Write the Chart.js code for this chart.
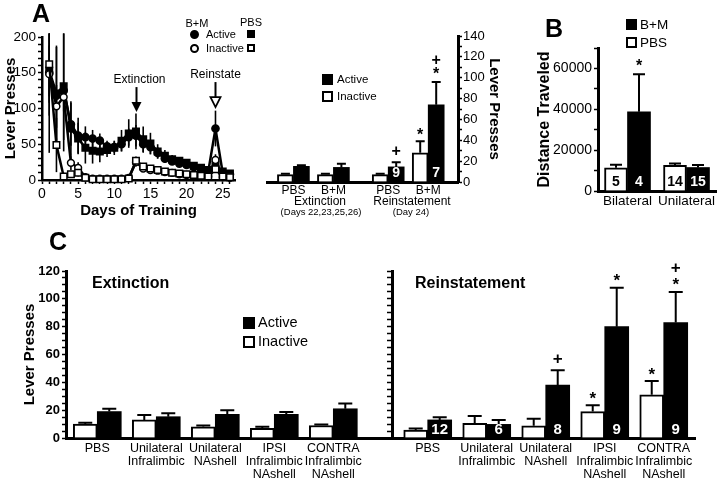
<!DOCTYPE html>
<html>
<head>
<meta charset="utf-8">
<script src="https://cdn.jsdelivr.net/npm/chart.js@4.4.1/dist/chart.umd.min.js"></script>
<style>
html,body{margin:0;padding:0;background:#fff}
body{width:720px;height:478px;position:relative;overflow:hidden;font-family:"Liberation Sans",Arial,sans-serif;color:#000}
canvas{position:absolute}
.c{position:absolute;white-space:nowrap;line-height:1;transform:translate(-50%,-50%)}
.l{position:absolute;white-space:nowrap;line-height:1;transform:translate(0,-50%)}
.b{font-weight:bold}
.sq{position:absolute;box-sizing:border-box;border:2px solid #000;background:#fff}
.sq.k{background:#000}
.dot{position:absolute;box-sizing:border-box;border:2px solid #000;border-radius:50%;background:#fff}
.dot.k{background:#000}
</style>
</head>
<body>
<canvas id="cA1" width="245" height="222" style="left:0;top:0"></canvas>
<canvas id="cA2" width="254" height="222" style="left:250px;top:0"></canvas>
<canvas id="cB" width="190" height="222" style="left:530px;top:0"></canvas>
<canvas id="cC" width="720" height="223" style="left:0;top:255px"></canvas>

<!-- panel letters -->
<div class="c b" style="left:41px;top:13px;font-size:25px">A</div>
<div class="c b" style="left:554px;top:28px;font-size:25px">B</div>
<div class="c b" style="left:58px;top:241px;font-size:25px">C</div>

<!-- A time-course legend -->
<div class="c" style="left:197px;top:23px;font-size:11px">B+M</div>
<div class="c" style="left:251px;top:22px;font-size:11px">PBS</div>
<div class="dot k" style="left:190px;top:30px;width:9px;height:9px"></div>
<div class="l" style="left:206px;top:34px;font-size:11px">Active</div>
<div class="sq k" style="left:247px;top:30px;width:8px;height:8px"></div>
<div class="dot" style="left:190px;top:44px;width:9px;height:9px"></div>
<div class="l" style="left:206px;top:48px;font-size:11px">Inactive</div>
<div class="sq" style="left:247px;top:44px;width:8px;height:8px"></div>

<!-- A bar legend & captions -->
<div class="sq k" style="left:322px;top:74px;width:11px;height:11px"></div>
<div class="l" style="left:337px;top:80px;font-size:11.5px">Active</div>
<div class="sq" style="left:322px;top:91px;width:11px;height:11px"></div>
<div class="l" style="left:337px;top:97px;font-size:11.5px">Inactive</div>
<div class="c" style="left:320px;top:201px;font-size:12px">Extinction</div>
<div class="c" style="left:321px;top:212px;font-size:9.5px">(Days 22,23,25,26)</div>
<div class="c" style="left:412px;top:201px;font-size:12px">Reinstatement</div>
<div class="c" style="left:411px;top:212px;font-size:9.5px">(Day 24)</div>

<!-- B legend -->
<div class="sq k" style="left:626px;top:19px;width:11px;height:11px"></div>
<div class="l" style="left:640px;top:25px;font-size:13.5px">B+M</div>
<div class="sq" style="left:626px;top:37px;width:11px;height:11px"></div>
<div class="l" style="left:640px;top:43px;font-size:13.5px">PBS</div>

<!-- C titles & legend -->
<div class="l b" style="left:92px;top:283px;font-size:16px">Extinction</div>
<div class="l b" style="left:415px;top:283px;font-size:16px">Reinstatement</div>
<div class="sq k" style="left:243px;top:317px;width:12px;height:12px"></div>
<div class="l" style="left:258px;top:322px;font-size:14.5px">Active</div>
<div class="sq" style="left:243px;top:336px;width:12px;height:12px"></div>
<div class="l" style="left:258px;top:341px;font-size:14.5px">Inactive</div>

<script>
// ---------------- DATA ----------------
// Panel A – time course (days of training)
const days = [1,2,3,4,5,6,7,8,9,10,11,12,13,14,15,16,17,18,19,20,21,22,23,24,25,26];
const bmActive      = [150,118,125,78,62,60,58,55,47,46,50,60,62,50,46,38,30,26,23,21,18,15,12,72,10,8];
const bmActiveErr   = [60,70,85,30,25,15,12,10,8,8,10,12,15,12,10,8,6,5,4,4,4,3,3,25,3,2];
const pbsActive     = [153,121,131,72,58,45,41,40,42,45,55,65,68,57,51,40,34,29,27,24,20,17,14,21,12,9];
const pbsActiveErr  = [115,65,75,38,22,22,18,15,10,10,15,20,25,18,15,10,8,6,5,5,4,4,3,8,3,2];
const bmInactive    = [148,103,116,24,17,4,2,2,2,2,2,3,25,16,14,13,11,10,8,7,6,5,5,28,4,3];
const bmInactiveErr = [40,30,20,10,8,2,1,1,1,1,1,1,6,4,3,3,2,2,2,2,1,1,1,8,1,1];
const pbsInactive   = [162,49,5,8,10,3,1,1,1,1,1,2,27,19,16,14,12,10,9,8,7,6,5,15,5,4];
const pbsInactiveErr= [45,38,5,5,5,1,1,1,1,1,1,1,6,4,3,3,2,2,2,2,1,1,1,5,1,1];
const aArrows = [
  {day:13, tipValue:95,  text:'Extinction', hollow:false},
  {day:24, tipValue:102, text:'Reinstate',  hollow:true}
];

// Panel A – bars
const aGroupLabels     = ['PBS','B+M'];
const aExtInactive     = [7, 7];
const aExtInactiveErr  = [1, 1];
const aExtActive       = [15, 14];
const aExtActiveErr    = [1, 3.5];
const aReinInactive    = [7, 28];
const aReinInactiveErr = [1, 11];
const aReinActive      = [14.5, 74];
const aReinActiveErr   = [4.5, 22];
const aReinN           = ['9','7'];
const aReinInactiveMarks = ['', '*'];
const aReinActiveMarks   = ['+', '*+'];

// Panel B
const bCategories = ['Bilateral','Unilateral'];
const bPBS      = [11400, 12600];
const bPBSErr   = [1500, 900];
const bBM       = [38800, 11500];
const bBMErr    = [18300, 1200];
const bPBSn     = ['5','14'];
const bBMn      = ['4','15'];
const bBMMarks  = ['*',''];

// Panel C
const cCategories = [['PBS'],['Unilateral','Infralimbic'],['Unilateral','NAshell'],['IPSI','Infralimbic','NAshell'],['CONTRA','Infralimbic','NAshell']];
const cExtInactive     = [10, 13, 8, 7, 9];
const cExtInactiveErr  = [1, 3.5, 1, 1, 0.7];
const cExtActive       = [19, 15.3, 17, 17, 21];
const cExtActiveErr    = [2, 2.5, 3, 1.7, 3.8];
const cReinInactive    = [5.7, 10.5, 8.8, 19, 31];
const cReinInactiveErr = [1.2, 5.3, 5, 4.5, 10];
const cReinActive      = [13, 9.8, 38, 80, 83];
const cReinActiveErr   = [2, 3.2, 10.7, 28, 22];
const cReinN           = ['12','6','8','9','9'];
const cReinInactiveMarks = ['','','','*','*'];
const cReinActiveMarks   = ['','','+','*','*+'];

// ---------------- SETUP ----------------
const FONT = '"Liberation Sans", Arial, sans-serif';
Chart.defaults.font.family = FONT;
Chart.defaults.color = '#000';
Chart.defaults.animation = false;
Chart.defaults.responsive = false;
Chart.defaults.devicePixelRatio = 1;
Chart.defaults.plugins.legend.display = false;
Chart.defaults.plugins.tooltip.enabled = false;

const val = d => (d !== null && typeof d === 'object') ? d.y : d;

function drawErr(chart, behind) {
  const ctx = chart.ctx;
  chart.data.datasets.forEach((ds, di) => {
    if (!ds.errors || (!!ds.errBehind) !== behind) return;
    const meta = chart.getDatasetMeta(di);
    const ys = chart.scales[meta.yAxisID];
    ctx.save();
    ctx.strokeStyle = '#000';
    ctx.lineWidth = ds.errLine || 2;
    meta.data.forEach((el, i) => {
      const v = val(ds.data[i]); const e = ds.errors[i];
      if (!e) return;
      const hi = ys.getPixelForValue(Math.min(v + e, ys.max + (ds.errOver || 0)));
      const lo = ds.twoSided ? ys.getPixelForValue(Math.max(v - e, ys.min)) : el.y;
      ctx.beginPath();
      ctx.moveTo(el.x, lo); ctx.lineTo(el.x, hi);
      if (ds.cap) { ctx.moveTo(el.x - ds.cap / 2, hi); ctx.lineTo(el.x + ds.cap / 2, hi); }
      ctx.stroke();
    });
    ctx.restore();
  });
}
function drawLabels(chart) {
  const ctx = chart.ctx;
  chart.data.datasets.forEach((ds, di) => {
    const meta = chart.getDatasetMeta(di);
    const ys = chart.scales[meta.yAxisID];
    meta.data.forEach((el, i) => {
      const v = val(ds.data[i]); const e = ds.errors ? (ds.errors[i] || 0) : 0;
      ctx.save();
      ctx.textAlign = 'center'; ctx.textBaseline = 'middle'; ctx.fillStyle = '#000';
      const m = ds.marks && ds.marks[i];
      if (m) {
        const top = ys.getPixelForValue(v + e);
        [...m].forEach((ch, k) => {
          ctx.font = 'bold ' + ds.markSize + 'px ' + FONT;
          ctx.fillText(ch, el.x, top - ds.markGap - k * ds.markStep + (ch === '*' ? ds.markSize * 0.25 : 0));
        });
      }
      const n = ds.nLabels && ds.nLabels[i];
      if (n) {
        ctx.font = 'bold ' + ds.nSize + 'px ' + FONT;
        ctx.fillStyle = ds.nColor;
        ctx.fillText(n, el.x, el.base - ds.nOffset);
      }
      ctx.restore();
    });
  });
}
const barExtras = {
  id: 'barExtras',
  beforeDatasetsDraw(chart) { drawErr(chart, true); },
  afterDatasetsDraw(chart) { drawErr(chart, false); drawLabels(chart); }
};
const arrowPlugin = {
  id: 'arrows',
  afterDatasetsDraw(chart) {
    const ctx = chart.ctx, xs = chart.scales.x, ys = chart.scales.y;
    aArrows.forEach(a => {
      const x = Math.round(xs.getPixelForValue(a.day)) + 0.5;
      const tip = ys.getPixelForValue(a.tipValue);
      const tail = tip - 25;
      ctx.save();
      ctx.strokeStyle = '#000'; ctx.fillStyle = '#000'; ctx.lineWidth = 2;
      ctx.beginPath(); ctx.moveTo(x, tail); ctx.lineTo(x, tip - (a.hollow ? 10 : 4)); ctx.stroke();
      ctx.beginPath(); ctx.moveTo(x - 5, tip - 10); ctx.lineTo(x + 5, tip - 10); ctx.lineTo(x, tip); ctx.closePath();
      if (a.hollow) { ctx.fillStyle = '#fff'; ctx.fill(); ctx.lineWidth = 1.8; ctx.stroke(); } else { ctx.fill(); }
      ctx.font = '12px ' + FONT; ctx.textAlign = 'center'; ctx.textBaseline = 'middle'; ctx.fillStyle = '#000';
      ctx.fillText(a.text, x + (a.hollow ? 0 : 3), tail - 7);
      ctx.restore();
    });
  }
};

const tickGrid = (len) => ({display: true, drawOnChartArea: false, drawTicks: true, tickLength: len, tickColor: '#000', tickWidth: 1.5, offset: false});
const noGrid = {display: false, drawTicks: false, offset: false};
const blackBorder = (w) => ({display: true, color: '#000', width: w});

// ---------------- PANEL A: time course ----------------
function lineSet(label, values, errs, style, fill, r) {
  return {
    label, data: days.map((d, i) => ({x: d, y: values[i]})),
    errors: errs, errBehind: true, twoSided: true, errLine: 1.6, errOver: 5,
    borderColor: '#000', borderWidth: 2.5, tension: 0, fill: false,
    pointStyle: style, pointRadius: r, pointBackgroundColor: fill,
    pointBorderColor: '#000', pointBorderWidth: 1.5
  };
}
new Chart(document.getElementById('cA1'), {
  type: 'line',
  data: {datasets: [
    lineSet('PBS Inactive', pbsInactive, pbsInactiveErr, 'rect', '#fff', 4.6),
    lineSet('B+M Inactive', bmInactive, bmInactiveErr, 'circle', '#fff', 3.4),
    lineSet('PBS Active', pbsActive, pbsActiveErr, 'rect', '#000', 4.6),
    lineSet('B+M Active', bmActive, bmActiveErr, 'circle', '#000', 3.6)
  ]},
  options: {
    clip: false,
    layout: {padding: {top: 37, right: 10, left: 0, bottom: 0}},
    scales: {
      x: {type: 'linear', min: 0, max: 26.7, offset: false,
          afterFit(s) { s.height = 42; },
          border: blackBorder(2.5), grid: tickGrid(4),
          ticks: {stepSize: 1, includeBounds: false, autoSkip: false, maxRotation: 0, padding: 2,
                  font: {size: 14}, callback: v => (v % 5 === 0 ? String(v) : '')},
          title: {display: true, text: 'Days of Training', font: {size: 15, weight: 'bold'}, padding: {top: 0, bottom: 2}}},
      y: {min: 0, max: 200,
          afterFit(s) { s.width = 42; },
          border: blackBorder(2.5), grid: tickGrid(4),
          ticks: {stepSize: 10, includeBounds: false, autoSkip: false, padding: 2,
                  font: {size: 13.5}, callback: v => (v % 50 === 0 ? String(v) : '')},
          title: {display: true, text: 'Lever Presses', font: {size: 15, weight: 'bold'}, padding: {top: 2, bottom: 0}}}
    }
  },
  plugins: [barExtras, arrowPlugin]
});

// ---------------- PANEL A: bars ----------------
const A_EXT0 = 0.66, A_REIN0 = 3.03, A_XMAX = 4.775;
const aPos = [...aGroupLabels.map((_, i) => A_EXT0 + i), ...aGroupLabels.map((_, i) => A_REIN0 + i)];
const aLabels = [...aGroupLabels, ...aGroupLabels];
const toXY = (vals) => vals.map((v, i) => ({x: aPos[i], y: v}));
new Chart(document.getElementById('cA2'), {
  type: 'bar',
  data: {datasets: [
    {label: 'Inactive', data: toXY([...aExtInactive, ...aReinInactive]),
     errors: [...aExtInactiveErr, ...aReinInactiveErr], cap: 9,
     marks: ['', '', ...aReinInactiveMarks], markSize: 16, markGap: 10, markStep: 10,
     backgroundColor: '#fff', borderColor: '#000', borderWidth: 2, borderSkipped: 'bottom', barThickness: 16},
    {label: 'Active', data: toXY([...aExtActive, ...aReinActive]),
     errors: [...aExtActiveErr, ...aReinActiveErr], cap: 9,
     marks: ['', '', ...aReinActiveMarks], markSize: 16, markGap: 11, markStep: 10,
     nLabels: ['', '', ...aReinN], nSize: 14, nColor: '#fff', nOffset: 8,
     backgroundColor: '#000', borderColor: '#000', borderWidth: 0, barThickness: 16}
  ]},
  options: {
    layout: {padding: {top: 36, right: 0, left: 17, bottom: 0}},
    scales: {
      x: {type: 'linear', min: 0, max: A_XMAX, offset: false,
          afterFit(s) { s.height = 40; },
          afterBuildTicks(s) { s.ticks = aPos.map(v => ({value: v})); },
          border: blackBorder(3), grid: noGrid,
          ticks: {autoSkip: false, maxRotation: 0, padding: 1, font: {size: 12},
                  callback: (v, i) => aLabels[i]}},
      y: {position: 'right', min: 0, max: 140,
          afterFit(s) { s.width = 46; },
          border: blackBorder(3), grid: tickGrid(4),
          ticks: {stepSize: 10, includeBounds: false, autoSkip: false, padding: 1, font: {size: 13},
                  callback: v => (v % 20 === 0 ? String(v) : '')},
          title: {display: true, text: 'Lever Presses', font: {size: 15, weight: 'bold'}, padding: {top: 1, bottom: 0}}}
    }
  },
  plugins: [barExtras]
});

// ---------------- PANEL B ----------------
new Chart(document.getElementById('cB'), {
  type: 'bar',
  data: {labels: bCategories, datasets: [
    {label: 'PBS', data: bPBS, errors: bPBSErr, cap: 12,
     nLabels: bPBSn, nSize: 14, nColor: '#000', nOffset: 8,
     backgroundColor: '#fff', borderColor: '#000', borderWidth: 2, borderSkipped: 'bottom', barThickness: 23},
    {label: 'B+M', data: bBM, errors: bBMErr, cap: 12,
     marks: bBMMarks, markSize: 16, markGap: 12, markStep: 10,
     nLabels: bBMn, nSize: 14, nColor: '#fff', nOffset: 8,
     backgroundColor: '#000', borderColor: '#000', borderWidth: 0, barThickness: 23}
  ]},
  options: {
    layout: {padding: {top: 48, right: 4, left: 0, bottom: 0}},
    scales: {
      x: {afterFit(s) { s.height = 31; },
          border: blackBorder(3), grid: noGrid,
          ticks: {autoSkip: false, maxRotation: 0, padding: 2, font: {size: 13.5}}},
      y: {min: 0, max: 70000,
          afterFit(s) { s.width = 68; },
          border: blackBorder(3), grid: tickGrid(4),
          ticks: {stepSize: 10000, autoSkip: false, padding: 2, font: {size: 14},
                  callback: v => (v % 20000 === 0 ? String(v) : '')},
          title: {display: true, text: 'Distance Traveled', font: {size: 16, weight: 'bold'}, padding: {top: 5, bottom: 0}}}
    }
  },
  plugins: [barExtras]
});

// ---------------- PANEL C ----------------
const C_EXT0 = 0.53, C_REIN0 = 6.13, C_DIV = 5.54, C_XMAX = 10.66;
const cPos = [...cCategories.map((_, i) => C_EXT0 + i), ...cCategories.map((_, i) => C_REIN0 + i)];
const cLabels = [...cCategories, ...cCategories];
const cXY = (vals) => vals.map((v, i) => ({x: cPos[i], y: v}));
const blank5 = ['', '', '', '', ''];
new Chart(document.getElementById('cC'), {
  type: 'bar',
  data: {datasets: [
    {label: 'Inactive', data: cXY([...cExtInactive, ...cReinInactive]),
     errors: [...cExtInactiveErr, ...cReinInactiveErr], cap: 14,
     marks: [...blank5, ...cReinInactiveMarks], markSize: 17, markGap: 10, markStep: 13,
     backgroundColor: '#fff', borderColor: '#000', borderWidth: 2, borderSkipped: 'bottom', barThickness: 24},
    {label: 'Active', data: cXY([...cExtActive, ...cReinActive]),
     errors: [...cExtActiveErr, ...cReinActiveErr], cap: 14,
     marks: [...blank5, ...cReinActiveMarks], markSize: 17, markGap: 11, markStep: 13,
     nLabels: [...blank5, ...cReinN], nSize: 15, nColor: '#fff', nOffset: 8,
     backgroundColor: '#000', borderColor: '#000', borderWidth: 0, barThickness: 24}
  ]},
  options: {
    layout: {padding: {top: 16, right: 25, left: 0, bottom: 0}},
    scales: {
      x: {type: 'linear', min: 0, max: C_XMAX, offset: false,
          afterFit(s) { s.height = 40; },
          afterBuildTicks(s) { s.ticks = cPos.map(v => ({value: v})); },
          border: blackBorder(3), grid: noGrid,
          ticks: {autoSkip: false, maxRotation: 0, padding: 4, font: {size: 12.5, lineHeight: 1.04},
                  callback: (v, i) => cLabels[i]}},
      y: {min: 0, max: 120,
          afterFit(s) { s.width = 66; },
          border: blackBorder(3), grid: tickGrid(4),
          ticks: {stepSize: 5, includeBounds: false, autoSkip: false, padding: 2, font: {size: 13, weight: 'bold'},
                  callback: v => (v % 20 === 0 ? String(v) : '')},
          title: {display: true, text: 'Lever Presses', font: {size: 15, weight: 'bold'}, padding: {top: 21, bottom: 0}}},
      y2: {axis: 'y', position: {x: C_DIV}, min: 0, max: 120,
           border: blackBorder(3), grid: tickGrid(4),
           ticks: {stepSize: 5, autoSkip: false, callback: () => ''}}
    }
  },
  plugins: [barExtras]
});
</script>
</body>
</html>
